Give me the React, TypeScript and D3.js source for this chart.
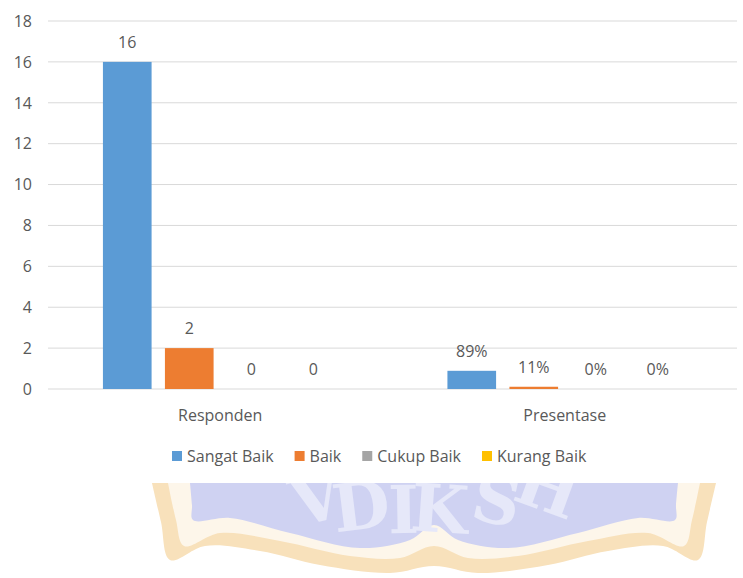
/* eslint-disable */
import React, { useEffect, useRef } from 'react';
import * as d3 from 'd3';

// ------- Data -------
const categories = ['Responden', 'Presentase'];
const seriesNames = ['Sangat Baik', 'Baik', 'Cukup Baik', 'Kurang Baik'];
const seriesColors = ['#5B9BD5', '#ED7D31', '#A5A5A5', '#FFC000'];
// values per category, in series order
const respondenValues = [16, 2, 0, 0];
const presentaseValues = [0.89, 0.11, 0, 0];
const presentaseLabels = ['89%', '11%', '0%', '0%'];
const yTicks = [0, 2, 4, 6, 8, 10, 12, 14, 16, 18];

const FONT = '"Open Sans", Lato, sans-serif';
const TEXT = '#595959';
const FS = 16;

const Chart = () => {
  const ref = useRef<SVGSVGElement>(null);

  useEffect(() => {
    if (!ref.current) return;
    const svg = d3.select(ref.current);
    svg.selectAll('*').remove();

    const width = 743;
    const height = 578;
    const margin = { top: 21, right: 6, bottom: 189, left: 48 };

    svg.attr('viewBox', `0 0 ${width} ${height}`);

    // ------- Watermark (page background below the chart image) -------
    const wm = svg.append('g');
    const cx = 434;
    const mirror = (pts: [number, number][]) =>
      pts.map(([x, y]) => [2 * cx - x, y] as [number, number]).reverse();
    const gold: [number, number][] = [
      [152, 483], [161, 522], [170, 560], [205, 546], [260, 551], [320, 565], [390, 573], [434, 566],
    ];
    const cream: [number, number][] = [
      [168, 483], [176, 520], [184, 546], [220, 533], [280, 541], [350, 556], [400, 558], [434, 546],
    ];
    const blue: [number, number][] = [
      [190, 483], [192, 505], [193, 520], [230, 518], [290, 533], [360, 548], [410, 540], [434, 525],
    ];
    const line = d3.line().curve(d3.curveCatmullRom.alpha(0.5));
    const shape = (pts: [number, number][], fill: string) => {
      const all = [...pts, ...mirror(pts).slice(1)];
      wm.append('path').attr('d', line(all) + 'Z').attr('fill', fill);
    };
    shape(gold, '#f8e1bb');
    shape(cream, '#fdf6ea');
    shape(blue, '#cfd2f2');

    const clip = svg.append('clipPath').attr('id', 'wmclip');
    clip.append('rect').attr('x', 0).attr('y', 483).attr('width', width).attr('height', 100);
    const letters = ['V', 'D', 'I', 'K', 'S', 'H'];
    const letterX = [322, 364, 404, 438, 492, 540];
    const letterY = [521, 529, 533, 532, 523, 510];
    const letterRot = [-14, -7, -1, 4, 12, 20];
    const lg = svg.append('g').attr('clip-path', 'url(#wmclip)');
    letters.forEach((l, i) => {
      lg.append('text')
        .attr('transform', `translate(${letterX[i]},${letterY[i]}) rotate(${letterRot[i]})`)
        .attr('text-anchor', 'middle')
        .attr('font-family', '"DejaVu Serif", serif')
        .attr('font-weight', 'bold')
        .attr('font-size', 66)
        .attr('fill', '#e6e8f9')
        .text(l);
    });

    // white chart image area
    svg.append('rect').attr('x', 0).attr('y', 0).attr('width', width).attr('height', 483).attr('fill', '#fff');

    // ------- Scales -------
    const y = d3
      .scaleLinear()
      .domain([0, 18])
      .range([height - margin.bottom, margin.top]);

    const x0 = d3
      .scaleBand()
      .domain(categories)
      .range([margin.left, width - margin.right])
      .padding(0);

    const x1 = d3
      .scaleBand()
      .domain(seriesNames)
      .range([0, x0.bandwidth()])
      .paddingInner(0.215)
      .paddingOuter(0.886);

    // ------- Grid -------
    svg
      .append('g')
      .selectAll('line')
      .data(yTicks)
      .enter()
      .append('line')
      .attr('x1', margin.left)
      .attr('x2', width - margin.right)
      .attr('y1', (d) => y(d))
      .attr('y2', (d) => y(d))
      .attr('stroke', '#d9d9d9')
      .attr('stroke-width', 1);

    svg
      .append('g')
      .selectAll('text')
      .data(yTicks)
      .enter()
      .append('text')
      .attr('x', 32)
      .attr('y', (d) => y(d))
      .attr('dy', '0.36em')
      .attr('text-anchor', 'end')
      .attr('font-family', FONT)
      .attr('font-size', FS)
      .attr('fill', TEXT)
      .text((d) => d);

    // ------- Bars -------
    const rows = categories.map((c, ci) => ({
      cat: c,
      items: seriesNames.map((s, si) => ({
        name: s,
        color: seriesColors[si],
        value: ci === 0 ? respondenValues[si] : presentaseValues[si],
        label: ci === 0 ? String(respondenValues[si]) : presentaseLabels[si],
      })),
    }));

    const groups = svg
      .append('g')
      .selectAll('g')
      .data(rows)
      .enter()
      .append('g')
      .attr('transform', (d) => `translate(${x0(d.cat)},0)`);

    groups
      .selectAll('rect')
      .data((d) => d.items)
      .enter()
      .append('rect')
      .attr('x', (d) => x1(d.name)!)
      .attr('y', (d) => y(d.value))
      .attr('width', x1.bandwidth())
      .attr('height', (d) => y(0) - y(d.value))
      .attr('fill', (d) => d.color);

    groups
      .selectAll('text')
      .data((d) => d.items)
      .enter()
      .append('text')
      .attr('x', (d) => x1(d.name)! + x1.bandwidth() / 2)
      .attr('y', (d) => y(d.value) - 20)
      .attr('dy', '0.36em')
      .attr('text-anchor', 'middle')
      .attr('font-family', FONT)
      .attr('font-size', FS)
      .attr('fill', TEXT)
      .text((d) => d.label);

    // ------- Category labels -------
    svg
      .append('g')
      .selectAll('text')
      .data(categories)
      .enter()
      .append('text')
      .attr('x', (d) => x0(d)! + x0.bandwidth() / 2)
      .attr('y', 415)
      .attr('dy', '0.36em')
      .attr('text-anchor', 'middle')
      .attr('font-family', FONT)
      .attr('font-size', FS)
      .attr('fill', TEXT)
      .text((d) => d);

    // ------- Legend -------
    const legend = svg.append('g');
    let lx = 172;
    seriesNames.forEach((s, i) => {
      legend
        .append('rect')
        .attr('x', lx)
        .attr('y', 451)
        .attr('width', 10)
        .attr('height', 10)
        .attr('fill', seriesColors[i]);
      const t = legend
        .append('text')
        .attr('x', lx + 15)
        .attr('y', 456)
        .attr('dy', '0.36em')
        .attr('font-family', FONT)
        .attr('font-size', FS)
        .attr('fill', TEXT)
        .text(s);
      const w = (t.node() as SVGTextElement).getComputedTextLength();
      lx += 15 + w + 21;
    });
  }, []);

  return (
    <svg
      ref={ref}
      width={743}
      height={578}
      style={{ position: 'absolute', left: 0, top: 0, display: 'block', background: '#fff' }}
    />
  );
};

export default function App() {
  return <Chart />;
}
